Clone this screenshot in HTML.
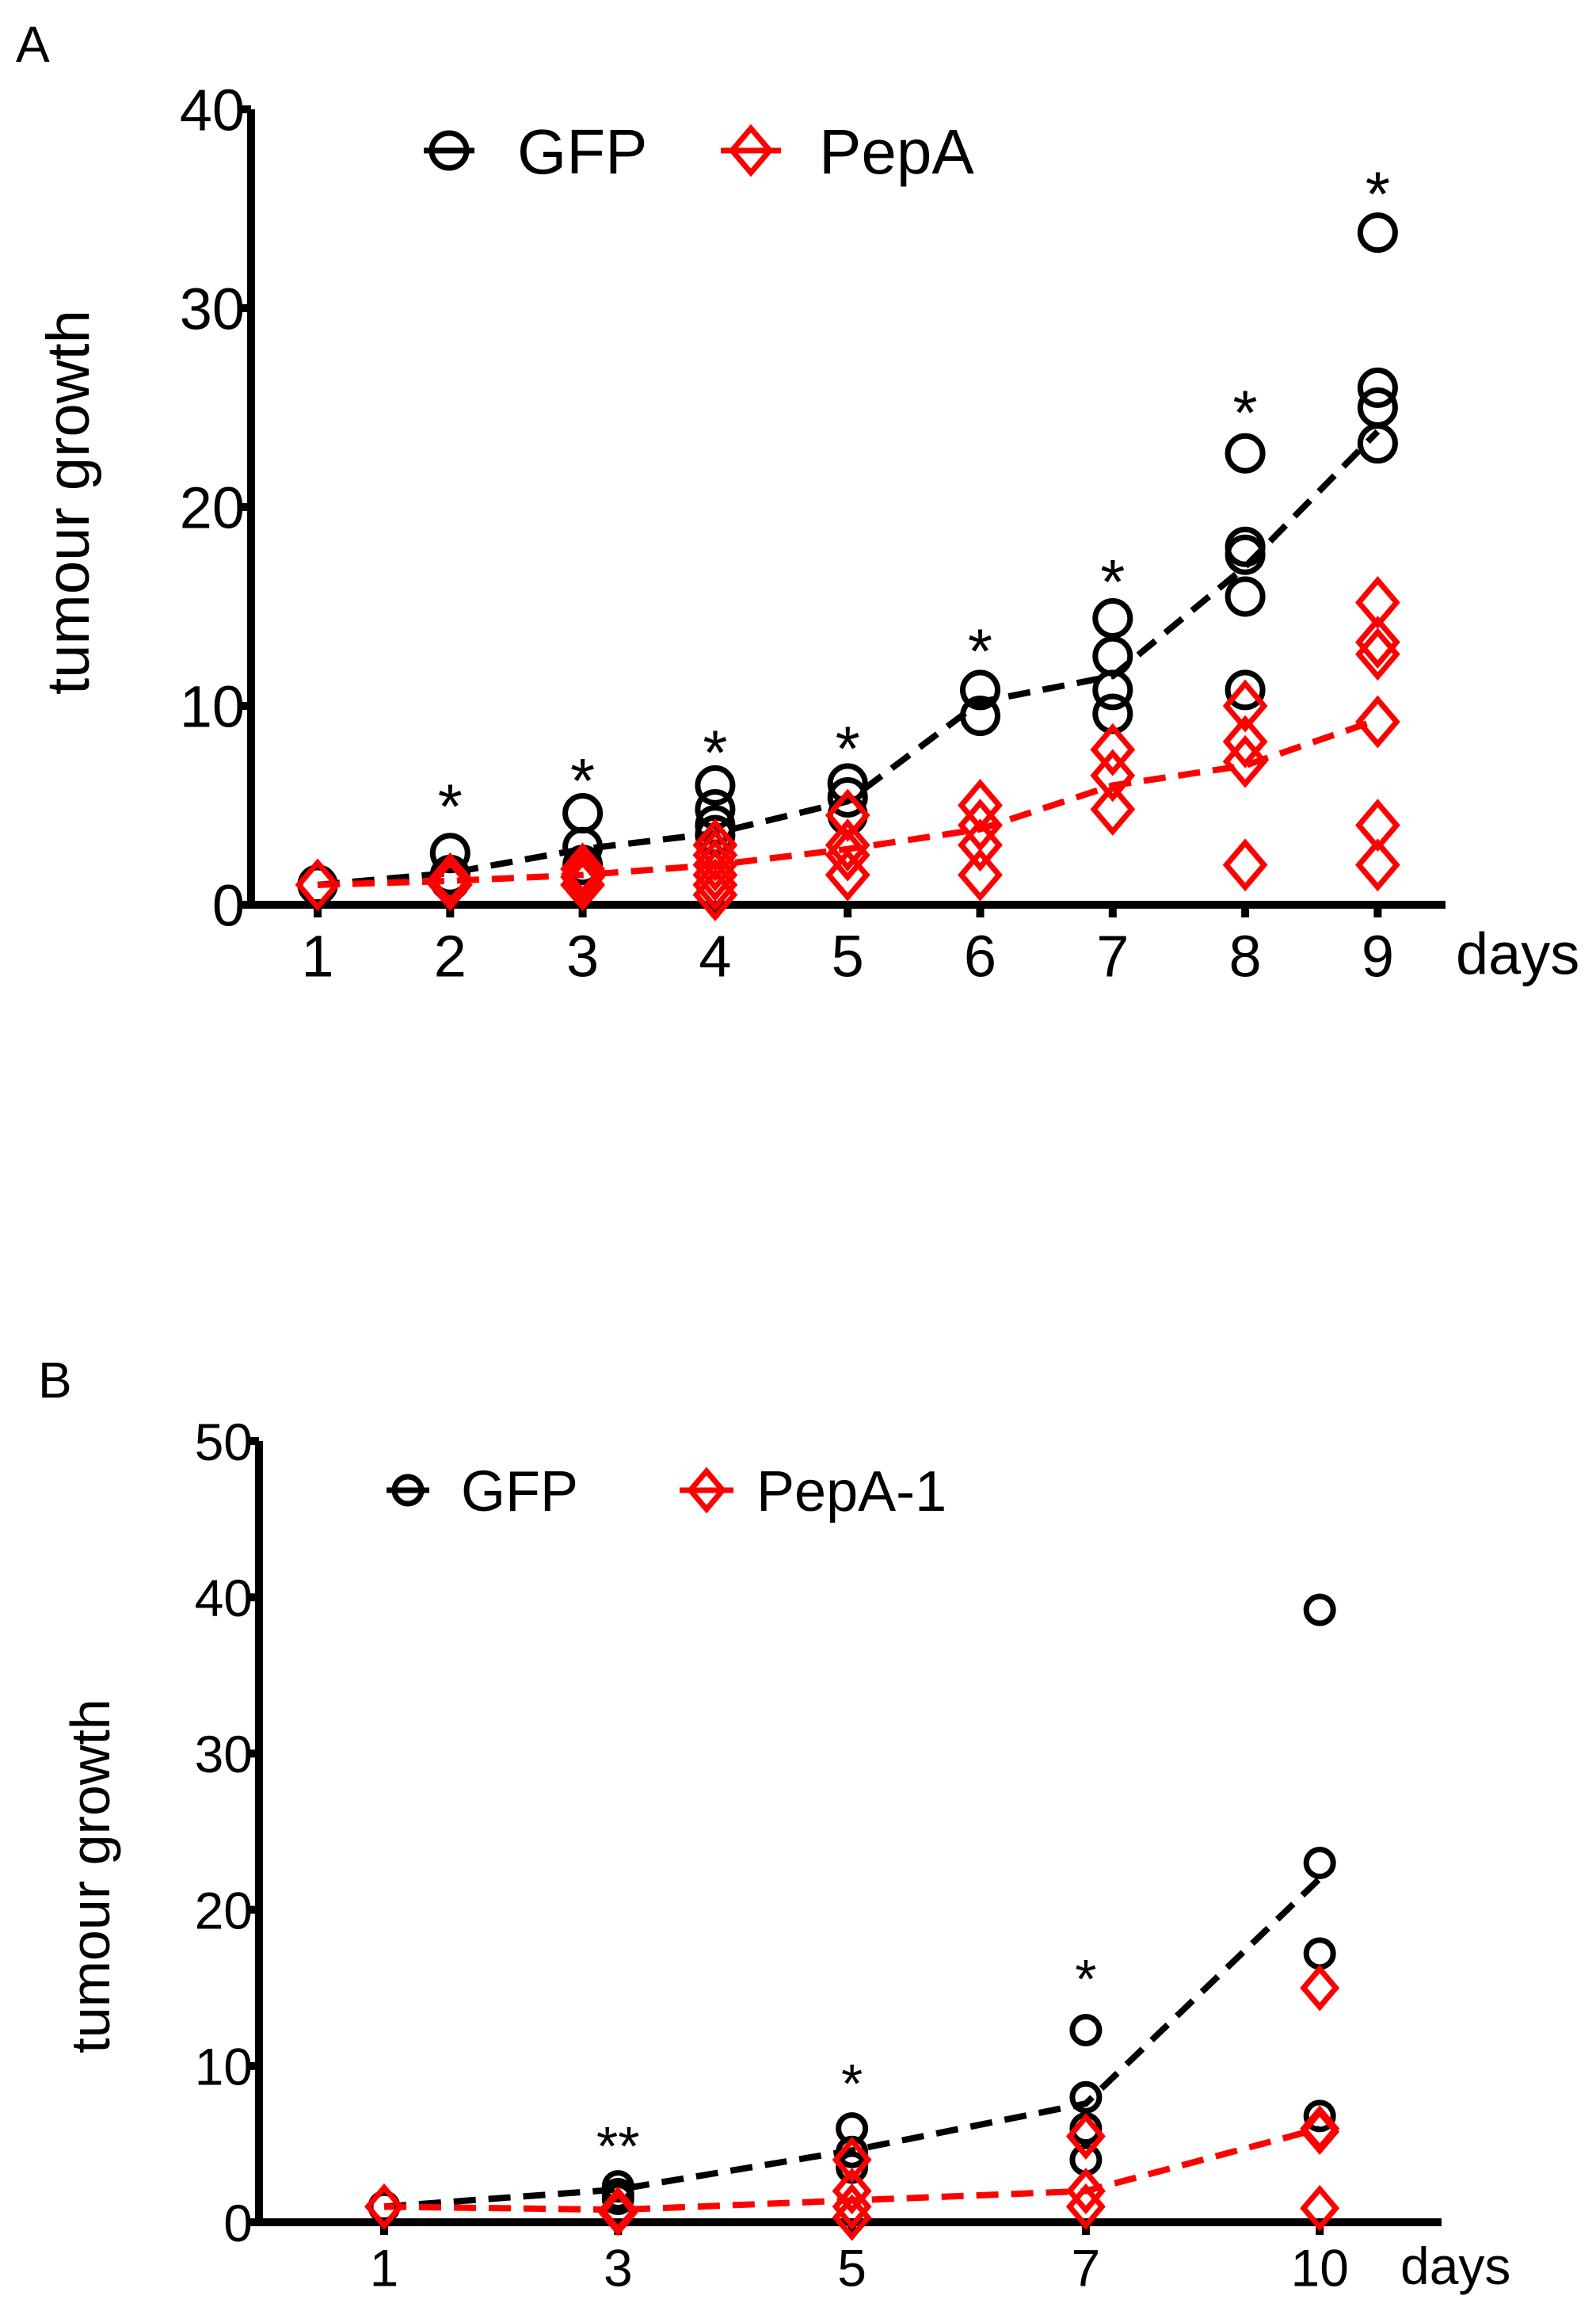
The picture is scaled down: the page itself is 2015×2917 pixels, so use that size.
<!DOCTYPE html>
<html><head><meta charset="utf-8"><style>
html,body{margin:0;padding:0;background:#fff}
svg{display:block;font-family:"Liberation Sans",Arial,sans-serif}
</style></head><body>
<svg id="fig" width="2015" height="2917" viewBox="0 0 2015 2917" xmlns="http://www.w3.org/2000/svg"></svg>
<script>
// Panel A data
const aDays = ['1','2','3','4','5','6','7','8','9'];
const aGfp = [[1,1,1],[2.6,1.5,1.2],[4.6,2.9,2],[6,4.8,4,3.5],[6.1,5.4,4.5],[10.8,9.5],[14.4,12.5,10.8,9.6],[22.7,18,17.6,15.5,10.8],[33.8,26,25,23.2]];
const aGfpMean = [1,1.6,2.8,3.6,5.2,10.2,11.5,17,23.8];
const aPep = [[1],[1.3,1.0],[1.8,1.4,1.0],[3,2.5,2,1.5,1,0.5],[4.5,3,2.5,1.5],[5,4,3,1.5],[7.8,6.5,4.8],[10,8.2,7.2,2],[15.2,13.2,12.6,9.2,4,2]];
const aPepMean = [1,1.2,1.5,2,2.8,3.8,6,7,9.3];
const aStars = ['','*','*','*','*','*','*','*','*'];
const aStarY = [0,5.6,6.9,8.3,8.5,13.4,16.9,25.4,36.4];
const aTicks = [0,10,20,30,40];
// Panel B data
const bDays = ['1','3','5','7','10'];
const bGfp = [[1],[2.3,1.8,1.5],[6,4.5,3.5],[12.3,8,6,4],[39.2,23,17.2,6.8]];
const bGfpMean = [1,2.1,4.6,7.6,22];
const bPep = [[1],[0.8,0.6],[4,2,1,0.3],[5.5,2,1],[15,6,5.8,0.9]];
const bPepMean = [1,0.8,1.4,2,6];
const bStars = ['','**','*','*',''];
const bStarY = [0,5.6,9.6,16.3,0];
const bTicks = [0,10,20,30,40,50];

const NS='http://www.w3.org/2000/svg';
const svg=document.getElementById('fig');
function mk(tag,attrs,parent){const e=document.createElementNS(NS,tag);for(const k in attrs)e.setAttribute(k,attrs[k]);(parent||svg).appendChild(e);return e;}
function txt(s,attrs,parent){const e=mk('text',attrs,parent);e.textContent=s;return e;}

function panel(P){
  const g=mk('g',{});
  
  
  const X=i=>P.x0+i*P.dx;
  const Y=v=>P.y0-(v/P.ymax)*(P.y0-P.ytop);
  const ax=mk('path',{d:`M${P.ax},${Y(P.ymax)} V${P.y0} H${P.xend}`,stroke:'#000','stroke-width':P.lw,fill:'none'},g);
  
  
  P.ticks.forEach(t=>{
    mk('line',{x1:P.ax-14,x2:P.ax,y1:Y(t),y2:Y(t),stroke:'#000','stroke-width':P.lw},g);
    const l=txt(String(t),{x:P.ax-8,y:Y(t)+P.tf*0.36,'font-size':P.tf,'text-anchor':'end'},g);
    
    
  });
  P.days.forEach((d,i)=>{
    mk('line',{x1:X(i),x2:X(i),y1:P.y0,y2:P.y0+16,stroke:'#000','stroke-width':P.lw},g);
    const l=txt(d,{x:X(i),y:P.y0+P.tf*1.22,'font-size':P.tf,'text-anchor':'middle'},g);
    
    
  });
  const dl=txt('days',{x:P.daysX,y:P.y0+P.tf*1.18,'font-size':P.tf},g);
  
  
  const yt=txt('tumour growth',{transform:`translate(${P.ytX},${P.ytY}) rotate(-90)`,'font-size':P.yf,'text-anchor':'middle'},g);
  
  
  const pl=txt(P.letter,{x:P.lx,y:P.ly,'font-size':64},g);
  
  
  const gl=mk('polyline',{points:P.gm.map((v,i)=>X(i)+','+Y(v)).join(' '),fill:'none',stroke:'#000','stroke-width':8,'stroke-dasharray':'28,16'},g);
  
  
  const rl=mk('polyline',{points:P.pm.map((v,i)=>X(i)+','+Y(v)).join(' '),fill:'none',stroke:'#f00','stroke-width':8,'stroke-dasharray':'28,16'},g);
  
  
  const circ=(cx,cy,par)=>mk('circle',{cx:cx,cy:cy,r:P.r,fill:'none',stroke:'#000','stroke-width':P.sw},par);
  const dia=(cx,cy,par)=>mk('path',{d:`M${cx},${cy-P.d} L${cx+P.d*0.85},${cy} L${cx},${cy+P.d} L${cx-P.d*0.85},${cy} Z`,fill:'none',stroke:'#f00','stroke-width':P.sw},par);
  P.gfp.forEach((arr,i)=>arr.forEach(v=>{const c=circ(X(i),Y(v),g);
    
    }));
  P.pep.forEach((arr,i)=>arr.forEach(v=>{const c=dia(X(i),Y(v),g);
    
    }));
  P.stars.forEach((s,i)=>{if(!s)return;const t=txt(s,{x:X(i),y:Y(P.starY[i])+P.sf*0.55,'font-size':P.sf,'text-anchor':'middle'},g);
    
    });
  const lg=mk('g',{},g);
  
  
  mk('line',{x1:P.legX-P.r-10,x2:P.legX+P.r+10,y1:P.legY,y2:P.legY,stroke:'#000','stroke-width':P.sw},lg);
  circ(P.legX,P.legY,lg);
  txt('GFP',{x:P.legT1,y:P.legY+P.lf*0.36,'font-size':P.lf},lg);
  mk('line',{x1:P.leg2X-P.d-10,x2:P.leg2X+P.d+10,y1:P.legY,y2:P.legY,stroke:'#f00','stroke-width':P.sw},lg);
  dia(P.leg2X,P.legY,lg);
  txt(P.pepName,{x:P.legT2,y:P.legY+P.lf*0.36,'font-size':P.lf},lg);
}

panel({name:'panel-a',letter:'A',lx:20,ly:78,ax:317,y0:1142,ytop:138,ymax:40,xend:1825,x0:401,dx:167.3,
  days:aDays,ticks:aTicks,gfp:aGfp,pep:aPep,gm:aGfpMean,pm:aPepMean,stars:aStars,starY:aStarY,
  tf:74,yf:76,sf:80,lf:80,lw:10,sw:7,r:22,d:28,daysX:1838,ytX:112,ytY:634,legX:567,leg2X:948,legY:190,legT1:653,legT2:1034,pepName:'PepA'});
panel({name:'panel-b',letter:'B',lx:48,ly:1764,ax:327,y0:2805,ytop:1819,ymax:50,xend:1820,x0:485,dx:295.3,
  days:bDays,ticks:bTicks,gfp:bGfp,pep:bPep,gm:bGfpMean,pm:bPepMean,stars:bStars,starY:bStarY,
  tf:66,yf:70,sf:70,lf:72,lw:10,sw:7,r:17,d:24,daysX:1768,ytX:138,ytY:2368,legX:515,leg2X:892,legY:1881,legT1:582,legT2:955,pepName:'PepA-1'});
</script>
</body></html>
